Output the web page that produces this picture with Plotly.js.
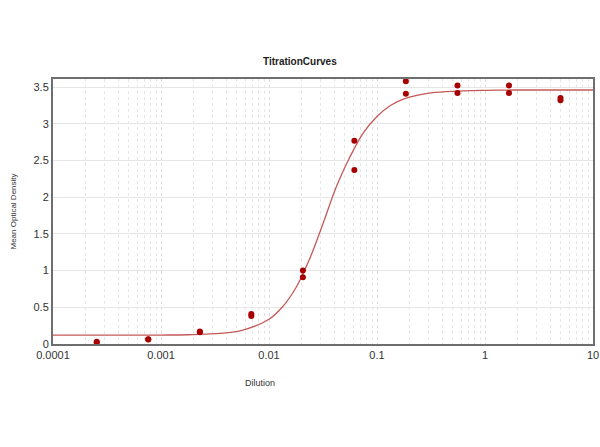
<!DOCTYPE html>
<html>
<head>
<meta charset="utf-8">
<script src="https://cdn.plot.ly/plotly-3.0.1.min.js"></script>
<style>html,body{margin:0;padding:0;background:#fff;}#chart{width:600px;height:447px;}</style>
</head>
<body>
<div id="chart"></div>
<script>
// Measured points (dilution, mean OD) – replicates
const dilution = [0.000254, 0.000254, 0.000762, 0.000762, 0.00229, 0.00229, 0.00686, 0.00686, 0.0206, 0.0206, 0.0617, 0.0617, 0.185, 0.185, 0.556, 0.556, 1.667, 1.667, 5.0, 5.0];
const meanOD   = [0.02, 0.03, 0.06, 0.065, 0.16, 0.17, 0.38, 0.41, 0.91, 1.0, 2.37, 2.77, 3.41, 3.58, 3.42, 3.52, 3.42, 3.52, 3.32, 3.35];

// Fitted curve
const curveX = [0.0001, 0.000178, 0.000316, 0.000562, 0.001, 0.00178, 0.00316, 0.00562, 0.01, 0.0133, 0.0178, 0.0237, 0.0316, 0.0422, 0.0562, 0.075, 0.1, 0.133, 0.178, 0.316, 0.562, 1, 1.78, 3.16, 5.62, 10];
const curveY = [0.12, 0.12, 0.12, 0.12, 0.122, 0.126, 0.14, 0.187, 0.338, 0.504, 0.77, 1.154, 1.638, 2.148, 2.55, 2.88, 3.10, 3.25, 3.34, 3.42, 3.445, 3.455, 3.46, 3.46, 3.46, 3.46];

const xTickVals = [0.0001, 0.001, 0.01, 0.1, 1, 10];
const xTickText = ["0.0001", "0.001", "0.01", "0.1", "1", "10"];
const yTickVals = [0, 0.5, 1, 1.5, 2, 2.5, 3, 3.5];
const yTickText = ["0", "0.5", "1", "1.5", "2", "2.5", "3", "3.5"];

const font = {family: "Liberation Sans, Arial, sans-serif", size: 11, color: "#333"};

const traces = [
  {x: curveX, y: curveY, type: "scatter", mode: "lines", line: {color: "#c45a58", width: 1.3, shape: "spline"}, hoverinfo: "skip", showlegend: false},
  {x: dilution, y: meanOD, type: "scatter", mode: "markers", marker: {color: "#a80000", size: 6}, showlegend: false}
];

const layout = {
  width: 600, height: 447,
  margin: {l: 53, r: 7, t: 79, b: 103},
  paper_bgcolor: "#fff", plot_bgcolor: "#fff",
  font: font,
  showlegend: false,
  xaxis: {
    type: "log", range: [-4, 1],
    tickvals: xTickVals, ticktext: xTickText,
    ticks: "", showline: true, mirror: true, linecolor: "#6e6e6e", linewidth: 2,
    showgrid: true, gridcolor: "#dddddd", griddash: "dot", gridwidth: 1,
    minor: {dtick: "D1", showgrid: true, gridcolor: "#e6e6e6", griddash: "dot", gridwidth: 1, ticks: ""},
    zeroline: false, tickfont: font
  },
  yaxis: {
    range: [0, 3.61],
    tickvals: yTickVals, ticktext: yTickText,
    ticks: "", showline: true, mirror: true, linecolor: "#6e6e6e", linewidth: 2,
    showgrid: true, gridcolor: "#e6e6e6", gridwidth: 1,
    zeroline: false, tickfont: font
  },
  annotations: [
    {text: "<b>TitrationCurves</b>", xref: "paper", yref: "paper", x: (300-53)/540, y: 1 + (79-61)/265, showarrow: false, xanchor: "center", yanchor: "middle", font: {family: font.family, size: 10, color: "#222"}},
    {text: "Dilution", xref: "paper", yref: "paper", x: (260-53)/540, y: -(383-344)/265, showarrow: false, xanchor: "center", yanchor: "middle", font: {family: font.family, size: 9, color: "#333"}},
    {text: "Mean Optical Density", xref: "paper", yref: "paper", x: -(53-13)/540, y: 0.5, textangle: -90, showarrow: false, xanchor: "center", yanchor: "middle", font: {family: font.family, size: 8, color: "#333"}}
  ]
};

Plotly.newPlot("chart", traces, layout, {displayModeBar: false, staticPlot: true});
</script>
</body>
</html>
